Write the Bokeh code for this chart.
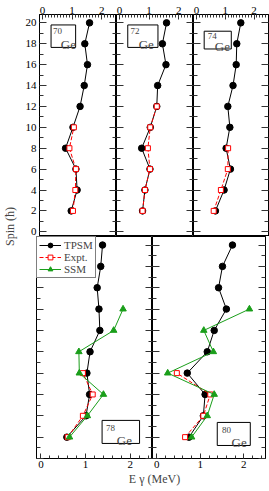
import math
from bokeh.plotting import figure
from bokeh.layouts import row, column
from bokeh.models import (Range1d, LinearAxis, SingleIntervalTicker, Label,
                          BoxAnnotation, Legend, LegendItem, CustomLabelingPolicy)
from bokeh.embed import file_html
from bokeh.resources import INLINE

SERIF = "Liberation Serif"

# ---------------- data ----------------
spins = [2, 4, 6, 8, 10, 12, 14, 16, 18, 20]

tpsm_70 = [0.97, 1.17, 1.13, 0.78, 1.03, 1.27, 1.41, 1.52, 1.43, 1.59]
expt_70_spin = [2, 4, 6, 8, 10]
expt_70 = [1.03, 1.11, 1.13, 0.91, 1.06]

tpsm_72 = [0.78, 0.86, 1.03, 0.75, 1.04, 1.26, 1.29, 1.57, 1.45, 1.59]
expt_72_spin = [2, 4, 6, 8, 10, 12]
expt_72 = [0.78, 0.86, 1.03, 0.96, 1.04, 1.26]

tpsm_74 = [0.66, 0.96, 1.18, 1.03, 1.16, 1.09, 1.27, 1.38, 1.40, 1.54]
expt_74_spin = [2, 4, 6, 8]
expt_74 = [0.60, 0.85, 1.09, 1.10]

tpsm_78 = [0.58, 1.01, 1.09, 1.03, 1.10, 1.32, 1.30, 1.26, 1.34, 1.38]
expt_78_spin = [2, 4, 6, 8]
expt_78 = [0.60, 0.94, 1.16, 0.94]
ssm_78_spin = [2, 4, 6, 8, 10, 12, 14]
ssm_78 = [0.64, 1.04, 1.40, 0.86, 0.85, 1.63, 1.84]

tpsm_80 = [0.74, 1.07, 1.11, 0.70, 1.16, 1.32, 1.60, 1.42, 1.51, 1.74]
expt_80_spin = [2, 4, 6, 8]
expt_80 = [0.65, 1.07, 1.23, 0.46]
ssm_80_spin = [2, 4, 6, 8, 10, 12, 14]
ssm_80 = [0.80, 1.16, 1.32, 0.25, 1.30, 1.08, 2.13]

x_ticks_major = 1
y_ticks_major = 2

RED = "#ff0000"
GREEN = "#1a9e1a"
TICK = "#333333"

FH = 222


def style_axis(ax, labels, minor, major_in, minor_in, interval, size="11px"):
    ax.ticker = SingleIntervalTicker(interval=interval, num_minor_ticks=minor)
    ax.major_tick_in = major_in
    ax.major_tick_out = 0
    ax.minor_tick_in = minor_in
    ax.minor_tick_out = 0
    ax.axis_line_color = "black"
    ax.major_tick_line_color = TICK
    ax.minor_tick_line_color = TICK
    if labels:
        ax.major_label_text_font = SERIF
        ax.major_label_text_font_size = size
        ax.major_label_text_color = "black"
    else:
        ax.major_label_text_font_size = "0px"
        ax.major_label_standoff = 0
        ax.major_label_policy = CustomLabelingPolicy(code="return []")


def panel(fw, top, ylabels, border_left, border_right, y0):
    p = figure(frame_width=fw, frame_height=FH,
               x_range=Range1d(-0.1, 2.5), y_range=Range1d(y0, 20.8),
               x_axis_location="above" if top else "below",
               output_backend="svg", toolbar_location=None,
               min_border_left=border_left, min_border_right=border_right,
               min_border_top=14 if top else 0, min_border_bottom=0)
    p.grid.visible = False
    p.outline_line_color = "black"
    p.outline_line_alpha = 1.0
    p.background_fill_color = "white"
    p.border_fill_color = "white"
    xa = p.xaxis[0]
    style_axis(xa, True, 10 if top else 5, 5, 3, x_ticks_major)
    xa.major_label_standoff = 1 if top else 2
    ya = p.yaxis[0]
    style_axis(ya, ylabels, 2, 7, 4, y_ticks_major)
    if ylabels:
        ya.major_label_standoff = 3
    ra = LinearAxis()
    style_axis(ra, False, 2, 7, 4, y_ticks_major)
    p.add_layout(ra, "right")
    return p


def draw(p, tpsm, es, ex, ss=None, sv=None):
    r1 = p.line(tpsm, spins, line_color="black", line_width=1)
    r2 = p.scatter(tpsm, spins, marker="circle", size=6.5, fill_color="black",
                   line_color="black")
    r3 = p.line(ex, es, line_color=RED, line_width=1, line_dash="4 2")
    r4 = p.scatter(ex, es, marker="square", size=5, fill_color="white",
                   line_color=RED, line_width=1)
    out = [(r1, r2), (r3, r4)]
    if ss is not None:
        r5 = p.line(sv, ss, line_color=GREEN, line_width=1)
        r6 = p.scatter(sv, ss, marker="triangle", size=6.5, fill_color=GREEN,
                       line_color=GREEN)
        out.append((r5, r6))
    return out


def tag(p, mass, left, right, top, bottom, mx, my, gx, gy):
    p.add_layout(BoxAnnotation(left=left, right=right, top=top, bottom=bottom,
                               fill_color="white", fill_alpha=1.0,
                               line_color="black", line_alpha=1.0,
                               line_width=1))
    p.add_layout(Label(x=mx, y=my, text=mass, text_font=SERIF,
                       text_font_size="9px", text_baseline="top",
                       text_align="left"))
    p.add_layout(Label(x=gx, y=gy, text="Ge", text_font=SERIF,
                       text_font_size="13px", text_baseline="alphabetic",
                       text_align="left"))


# ---------------- top row ----------------
Y0_TOP = -0.45
p1 = panel(77, True, True, 14, 0, Y0_TOP)
draw(p1, tpsm_70, expt_70_spin, expt_70)
tag(p1, "70", 0.29, 1.12, 19.8, 17.65, 0.36, 19.55, 0.62, 17.92)

p2 = panel(77, True, False, 0, 0, Y0_TOP)
draw(p2, tpsm_72, expt_72_spin, expt_72)
tag(p2, "72", 0.28, 1.30, 19.8, 17.65, 0.37, 19.55, 0.65, 17.92)

p3 = panel(75, True, False, 0, 2, Y0_TOP)
draw(p3, tpsm_74, expt_74_spin, expt_74)
tag(p3, "74", 0.27, 1.21, 19.2, 17.5, 0.39, 19.0, 0.64, 17.75)

# ---------------- bottom row ----------------
p4 = panel(116, False, False, 14, 0, 0)
rs = draw(p4, tpsm_78, expt_78_spin, expt_78, ssm_78_spin, ssm_78)
tag(p4, "78", 1.37, 2.21, 3.57, 1.41, 1.46, 3.15, 1.70, 1.72)
legend = Legend(items=[LegendItem(label="TPSM", renderers=list(rs[0])),
                       LegendItem(label="Expt.", renderers=list(rs[1])),
                       LegendItem(label="SSM", renderers=list(rs[2]))],
                location="top_left")
legend.margin = 0
legend.padding = 2
legend.spacing = 0
legend.glyph_height = 12
legend.glyph_width = 22
legend.label_height = 12
legend.label_standoff = 3
legend.label_text_font = SERIF
legend.label_text_font_size = "11px"
legend.border_line_color = "black"
legend.border_line_width = 1
legend.background_fill_alpha = 1.0
p4.add_layout(legend)

p5 = panel(113, False, False, 0, 2, 0)
draw(p5, tpsm_80, expt_80_spin, expt_80, ssm_80_spin, ssm_80)
tag(p5, "80", 1.39, 2.15, 3.38, 1.22, 1.50, 2.95, 1.72, 1.52)

# ---------------- shared axis titles ----------------
ps = figure(width=22, height=490, x_range=Range1d(0, 22), y_range=Range1d(0, 490),
            x_axis_type=None, y_axis_type=None, output_backend="svg",
            toolbar_location=None, min_border=0)
ps.grid.visible = False
ps.outline_line_color = None
ps.add_layout(Label(x=9, y=264, text="Spin (ħ)", angle=math.pi / 2,
                    text_align="center", text_baseline="middle",
                    text_font=SERIF, text_font_size="12px"))

px = figure(width=245, height=17, x_range=Range1d(0, 245), y_range=Range1d(0, 17),
            x_axis_type=None, y_axis_type=None, output_backend="svg",
            toolbar_location=None, min_border=0)
px.grid.visible = False
px.outline_line_color = None
px.add_layout(Label(x=132, y=9, text="E γ (MeV)", text_align="center",
                    text_baseline="middle", text_font=SERIF,
                    text_font_size="12px"))

layout = row(ps, column(row(p1, p2, p3), row(p4, p5), px))

open("out.html", "w").write(file_html(layout, INLINE))
